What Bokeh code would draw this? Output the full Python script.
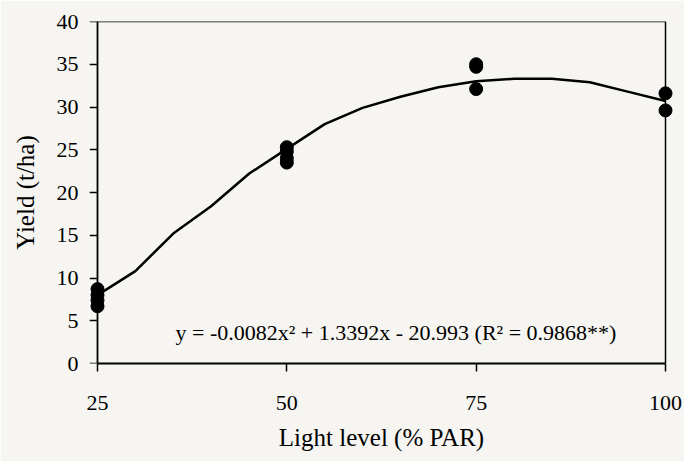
from bokeh.plotting import figure
from bokeh.models import Range1d, FixedTicker, LinearAxis, Title
from bokeh.core.properties import value
from bokeh.embed import file_html
from bokeh.resources import INLINE

# observed yields (t/ha) at each light level (% PAR)
obs_x = [25, 25, 25, 25, 50, 50, 50, 50, 75, 75, 75, 100, 100]
obs_y = [8.7, 8.0, 7.4, 6.7, 25.3, 24.8, 24.0, 23.5, 35.0, 34.7, 32.1, 31.6, 29.6]

# fitted curve
curve_x = [25, 30, 35, 40, 45, 50, 55, 60, 65, 70, 75, 80, 85, 90, 95, 100]
curve_y = [8.0, 10.8, 15.2, 18.4, 22.2, 25.1, 28.0, 29.9, 31.2, 32.3, 33.0, 33.3, 33.3, 32.9, 31.8, 30.7]

x_ticks = [25, 50, 75, 100]
y_ticks = [0, 5, 10, 15, 20, 25, 30, 35, 40]

x_title = "Light level (% PAR)"
y_title = "Yield (t/ha)"
equation = "y = -0.0082x\u00b2 + 1.3392x - 20.993 (R\u00b2 = 0.9868**)"
eq_pos = (35.3, 3.6)

FONT = "Liberation Serif"
BG = "#f6f5f1"

p = figure(width=684, height=461, output_backend="svg", toolbar_location=None,
           x_range=Range1d(23.944, 101.056), y_range=Range1d(0, 40),
           x_axis_location=None, y_axis_location=None,
           min_border_left=89, min_border_right=11, min_border_top=21, min_border_bottom=98)
p.background_fill_color = BG
p.border_fill_color = BG
p.outline_line_color = None
p.xgrid.visible = False
p.ygrid.visible = False


def style(ax):
    ax.axis_line_color = "black"
    ax.axis_line_width = 1.8
    ax.major_tick_line_color = "black"
    ax.major_tick_line_width = 1.5
    ax.major_tick_in = 0
    ax.major_tick_out = 8
    ax.minor_tick_line_color = None
    ax.major_label_text_font = FONT
    ax.major_label_text_font_size = "22px"
    ax.major_label_text_color = "black"
    ax.axis_label_text_font = FONT
    ax.axis_label_text_font_size = "25px"
    ax.axis_label_text_font_style = "normal"
    ax.axis_label_text_color = "black"


xaxis = LinearAxis(ticker=FixedTicker(ticks=x_ticks), bounds=(25, 100))
style(xaxis)
xaxis.major_label_standoff = 24
p.add_layout(xaxis, "below")

# x axis title, stacked under the x axis
p.add_layout(Title(text=x_title, align="center", text_font=FONT, text_font_size="25px",
                   text_font_style="normal", text_color="black", standoff=19), "below")

# labels and title of the y axis (drawn at the frame edge)
ylab = LinearAxis(ticker=FixedTicker(ticks=y_ticks), axis_label=y_title)
style(ylab)
ylab.axis_line_color = None
ylab.major_tick_line_color = None
ylab.major_tick_out = 0
ylab.major_label_standoff = 11
ylab.axis_label_standoff = 15
p.add_layout(ylab, "left")

# y axis line and ticks at x = 25
yaxis = LinearAxis(ticker=FixedTicker(ticks=y_ticks), fixed_location=25)
style(yaxis)
yaxis.major_label_text_color = None
p.add_layout(yaxis, "left")

top = LinearAxis(ticker=FixedTicker(ticks=[]), bounds=(25, 100), fixed_location=40)
style(top)
top.axis_line_width = 1.5
top.major_tick_out = 0
p.add_layout(top, "above")

right = LinearAxis(ticker=FixedTicker(ticks=[]), fixed_location=100)
style(right)
right.axis_line_width = 1.5
right.major_tick_out = 0
p.add_layout(right, "right")

p.line(curve_x, curve_y, line_color="black", line_width=2.5)
p.scatter(obs_x, obs_y, size=13, marker="circle", fill_color="black", line_color="black")

p.text(x=[eq_pos[0]], y=[eq_pos[1]], text=[equation], text_font=value(FONT),
       text_font_size="22px", text_color="black", text_align="left", text_baseline="alphabetic")

open("out.html", "w").write(file_html(p, INLINE))
